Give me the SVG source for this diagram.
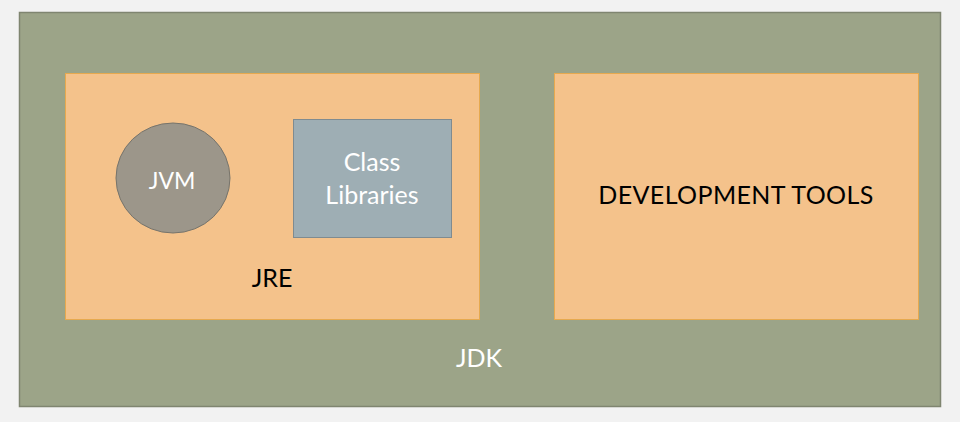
<svg xmlns="http://www.w3.org/2000/svg" width="960" height="422" viewBox="0 0 960 422">
<style>
.lbl{font-family:"Lato","Liberation Sans",sans-serif;font-size:25px;text-anchor:middle}
.w{fill:#ffffff}
.b{fill:#000000}
.box{fill:#f4c28b;stroke:#e6a94f;stroke-width:1}
</style>
<rect x="0" y="0" width="960" height="422" fill="#f2f2f2"/>
<g id="jdk">
<rect x="19.5" y="12.5" width="921" height="394" fill="#9ca488" stroke="#7f8570" stroke-width="1.5"/>
<text class="lbl w" x="479" y="367">JDK</text>
</g>
<g id="jre">
<rect class="box" x="65.5" y="73.5" width="414" height="246"/>
<text class="lbl b" x="272" y="287">JRE</text>
</g>
<g id="jvm">
<ellipse cx="173" cy="178" rx="57" ry="55" fill="#9c968a" stroke="#77746b" stroke-width="1"/>
<text class="lbl w" x="172" y="189" style="font-size:23px">JVM</text>
</g>
<g id="classlib">
<rect x="293.5" y="119.5" width="158" height="118" fill="#9eaeb4" stroke="#7f8b90" stroke-width="1"/>
<text class="lbl w" x="372" y="171">Class</text>
<text class="lbl w" x="372" y="204">Libraries</text>
</g>
<g id="devtools">
<rect class="box" x="554.5" y="73.5" width="364" height="246"/>
<text class="lbl b" x="736" y="204" style="letter-spacing:0.4px">DEVELOPMENT TOOLS</text>
</g>
<g id="connectors"></g>
</svg>
